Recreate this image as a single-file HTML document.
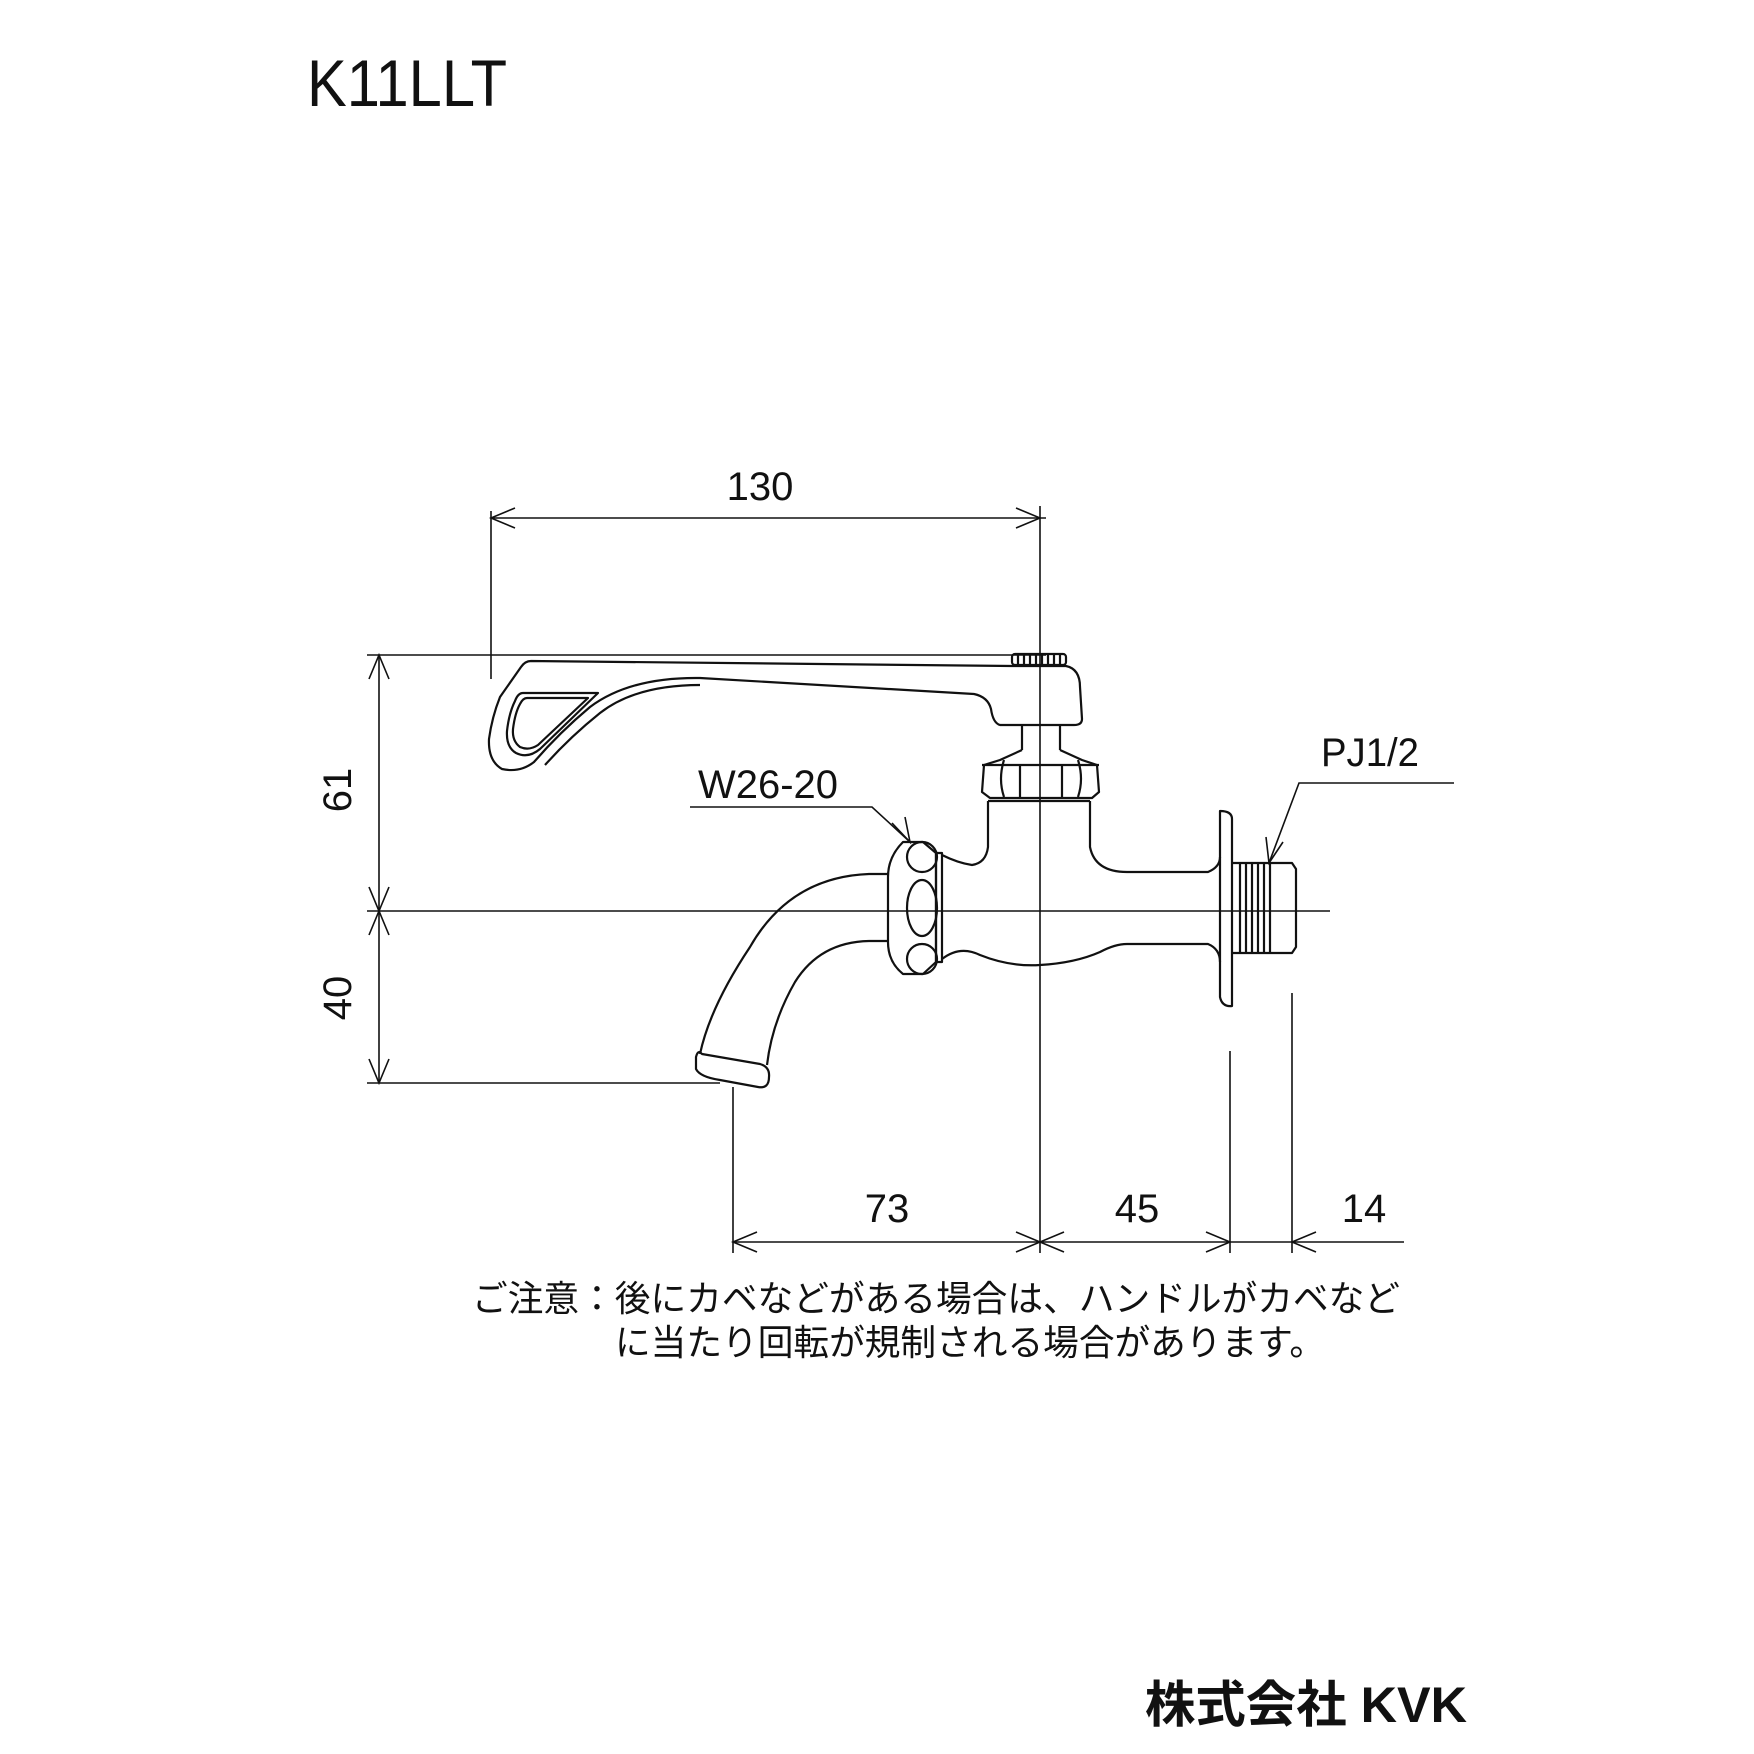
<!DOCTYPE html>
<html><head><meta charset="utf-8"><style>
html,body{margin:0;padding:0;background:#fff}
svg{display:block}
text{font-family:"Liberation Sans","Noto Sans CJK JP",sans-serif;fill:#111}
</style></head><body>
<svg width="1754" height="1754" viewBox="0 0 1754 1754" xmlns="http://www.w3.org/2000/svg">
<g transform="translate(0,-3)">
<g fill="none" stroke="#111" stroke-width="1.6">
<line x1="367" y1="658" x2="1046" y2="658"/>
<line x1="367" y1="914" x2="1330" y2="914"/>
<line x1="367" y1="1086" x2="720" y2="1086"/>
<line x1="379" y1="658" x2="379" y2="1086"/>
<line x1="491" y1="514" x2="491" y2="682"/>
<line x1="491" y1="521" x2="1046" y2="521"/>
<line x1="1040" y1="509" x2="1040" y2="1256"/>
<line x1="733" y1="1090" x2="733" y2="1256"/>
<line x1="1230" y1="1054" x2="1230" y2="1256"/>
<line x1="1292" y1="996" x2="1292" y2="1256"/>
<line x1="733" y1="1245" x2="1404" y2="1245"/>
<path d="M515 511 L491 521 L515 531 M1016 511 L1040 521 L1016 531"/>
<path d="M369 682 L379 658 L389 682 M369 890 L379 914 L389 890 M369 938 L379 914 L389 938 M369 1062 L379 1086 L389 1062"/>
<path d="M757 1235 L733 1245 L757 1255 M1016 1235 L1040 1245 L1016 1255 M1064 1235 L1040 1245 L1064 1255 M1206 1235 L1230 1245 L1206 1255 M1316 1235 L1292 1245 L1316 1255"/>
<path d="M690 810 L872 810 L910 845"/>
<path d="M892 826 L910 845 L905 820"/>
<path d="M1454 786 L1299 786 L1269 866"/>
<path d="M1266 840 L1269 866 L1283 845"/>
</g>
<g fill="none" stroke="#111" stroke-width="2.2" stroke-linejoin="round">
<!-- handle -->
<path d="M531 664 L1012 669 L1066 669 Q1080 672 1080 690 L1082 722 Q1082 728 1074 728 L1000 728 Q993 726 991 712 Q988 700 974 697 L700 681 Q630 680 590 710 Q560 735 534 765 Q520 776 502 772 Q488 764 489 742 Q492 720 500 700 L521 670 Q525 664 531 664 Z"/>
<path d="M700 688 Q636 688 600 716 Q570 740 545 768"/>
<path d="M523 696 L598 696 L540 752 Q528 762 516 756 Q506 750 507 734 Q509 716 515 704 Q518 696 523 696 Z"/>
<path d="M527 701 L588 701 L538 748 Q529 754 520 750 Q512 744 513 732 Q515 716 520 707 Q523 701 527 701 Z"/>
<rect x="1012" y="657" width="54" height="11" rx="3"/>
<path d="M1018 657 v11 M1024 657 v11 M1030 657 v11 M1036 657 v11 M1042 657 v11 M1048 657 v11 M1054 657 v11 M1060 657 v11"/>
<path d="M1022 728 L1022 753 M1060 728 L1060 753"/>
<path d="M1022 753 L1000 763 L984 768 L982 795 L990 801 L1092 801 L1099 795 L1097 768 L1082 763 L1060 753"/>
<path d="M982 768 L1099 768 M1004 763 Q998 782 1004 800 M1078 763 Q1084 782 1078 800 M1020 768 L1020 800 M1062 768 L1062 800"/>
<path d="M988 804 L1090 804"/>
<path d="M988 804 L988 850 Q986 866 972 868 Q958 866 942 858"/>
<path d="M1090 804 L1090 850 Q1095 875 1127 875 L1208 875 Q1220 870 1220 860"/>
<path d="M942 962 Q960 948 980 958 Q1010 970 1040 968 Q1075 966 1100 955 Q1115 947 1127 947 L1208 947 Q1220 952 1220 965"/>
<path d="M936 856 L942 856 L942 965 L936 965 Z"/>
<path d="M903 845 Q888 860 888 880 L888 945 Q888 965 903 977 L923 977 L936 965 L936 856 L923 845 Z"/>
<ellipse cx="922" cy="860" rx="15" ry="15"/>
<ellipse cx="922" cy="911" rx="15" ry="28"/>
<ellipse cx="922" cy="962" rx="15" ry="15"/>
<path d="M888 877 L869 877 Q790 880 750 950 Q710 1010 700 1057"/>
<path d="M888 944 L869 944 Q820 945 795 985 Q772 1025 767 1068"/>
<path d="M702 1057 Q698 1052 696 1060 L696 1072 Q700 1080 720 1083 L758 1090 Q769 1092 769 1080 Q770 1070 760 1067 Z"/>
<path d="M1220 814 Q1232 814 1232 822 L1232 1009 Q1222 1010 1220 1000 Z"/>
<path d="M1232 866 L1292 866 L1296 872 L1296 950 L1292 956 L1232 956"/>
<path d="M1240 866 v90 M1246 866 v90 M1252 866 v90 M1258 866 v90 M1264 866 v90 M1270 866 v90"/>
</g>
<text x="760" y="503" font-size="40" text-anchor="middle">130</text>
<text x="887" y="1225" font-size="40" text-anchor="middle">73</text>
<text x="1137" y="1225" font-size="40" text-anchor="middle">45</text>
<text x="1364" y="1225" font-size="40" text-anchor="middle">14</text>
<text transform="translate(351,793) rotate(-90)" font-size="40" text-anchor="middle">61</text>
<text transform="translate(351,1001) rotate(-90)" font-size="40" text-anchor="middle">40</text>
<text x="698" y="801" font-size="40" textLength="140" lengthAdjust="spacingAndGlyphs">W26-20</text>
<text x="1321" y="769" font-size="40" textLength="98" lengthAdjust="spacingAndGlyphs">PJ1/2</text>
<text x="472" y="1314" font-size="36" textLength="928" lengthAdjust="spacingAndGlyphs">ご注意：後にカベなどがある場合は、ハンドルがカベなど</text>
<text x="615" y="1358" font-size="36" textLength="710" lengthAdjust="spacingAndGlyphs">に当たり回転が規制される場合があります。</text>
</g>
<text x="307" y="106" font-size="66" textLength="200" lengthAdjust="spacingAndGlyphs">K11LLT</text>
<text x="1145" y="1722" font-size="50" font-weight="bold" textLength="322" lengthAdjust="spacingAndGlyphs">株式会社 KVK</text>
</svg>
</body></html>
